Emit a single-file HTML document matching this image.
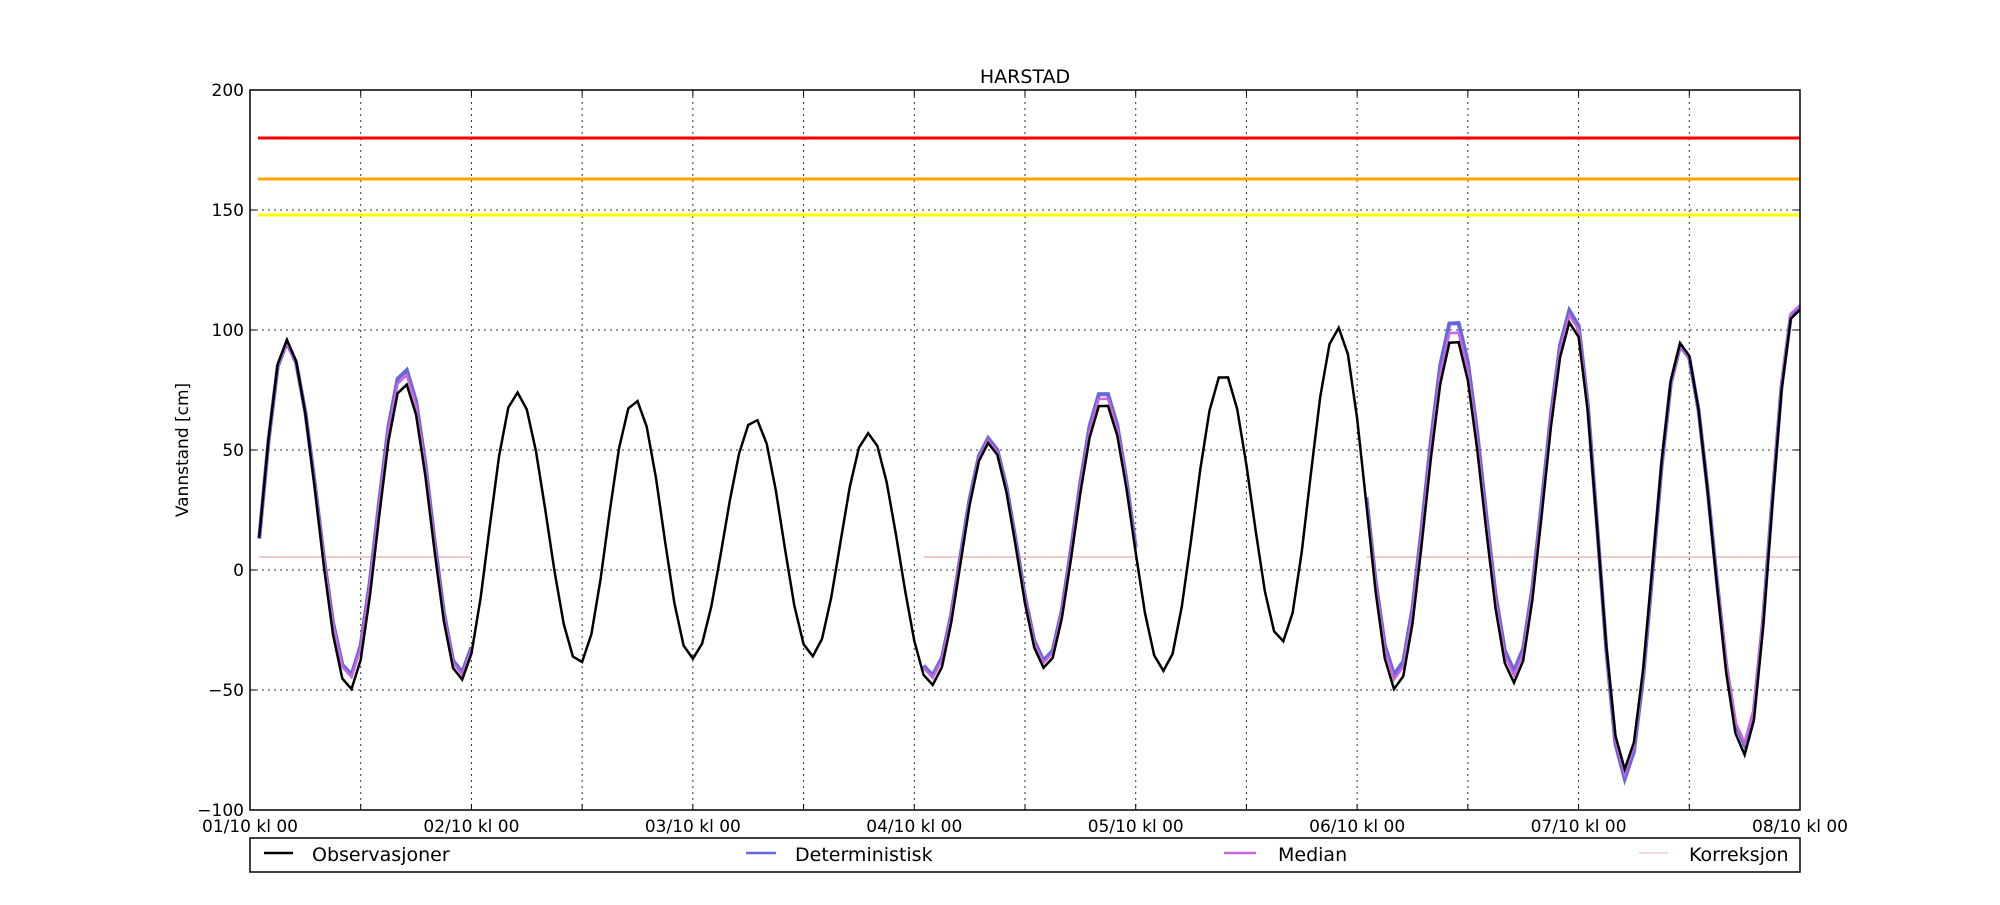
<!DOCTYPE html>
<html><head><meta charset="utf-8"><style>
body{margin:0;background:#fff;}
svg text{font-family:"DejaVu Sans","Liberation Sans",sans-serif;fill:#000;}
</style></head><body>
<svg id="s" width="2000" height="900" xmlns="http://www.w3.org/2000/svg">
<rect width="2000" height="900" fill="#fff"/>
<g id="grid" stroke="#000" stroke-width="1" stroke-dasharray="2,4" opacity="0.8"></g>
<line x1="258" x2="1800" y1="138" y2="138" stroke="#ff0000" stroke-width="3"/>
<line x1="258" x2="1800" y1="179" y2="179" stroke="#ffa500" stroke-width="3"/>
<line x1="258" x2="1800" y1="215" y2="215" stroke="#ffff00" stroke-width="3"/>
<g id="ser"></g>
<rect x="250" y="90" width="1550" height="720" fill="none" stroke="#000" stroke-width="1.5"/>
<g id="ticks" stroke="#000" stroke-width="1"></g>
<g id="lab" font-size="17"></g>
<text x="1025" y="83" font-size="19" text-anchor="middle">HARSTAD</text>
<text transform="translate(188,450) rotate(-90)" font-size="17" text-anchor="middle">Vannstand [cm]</text>
<rect x="250" y="838" width="1550" height="34" fill="#fff" stroke="#000" stroke-width="1.5"/>
<line x1="264" x2="293" y1="853" y2="853" stroke="#000" stroke-width="2.5"/>
<text x="312" y="861" font-size="19">Observasjoner</text>
<line x1="746" x2="776" y1="853" y2="853" stroke="#6666dd" stroke-width="2.5"/>
<text x="795" y="861" font-size="19">Deterministisk</text>
<line x1="1224" x2="1256" y1="853" y2="853" stroke="#cc66dd" stroke-width="2.5"/>
<text x="1278" y="861" font-size="19">Median</text>
<line x1="1639" x2="1668" y1="853" y2="853" stroke="#eecccc" stroke-width="1.5"/>
<text x="1689" y="861" font-size="19">Korreksjon</text>
</svg>
<script>
var NS="http://www.w3.org/2000/svg";
function X(t){return 250+t*1550/168;}
function Y(v){return 570-v*2.4;}
function el(p,n,a,txt){var e=document.createElementNS(NS,n);for(var k in a)e.setAttribute(k,a[k]);if(txt)e.textContent=txt;document.getElementById(p).appendChild(e);return e;}
for(var h=12;h<168;h+=12){el("grid","line",{x1:X(h),x2:X(h),y1:90,y2:810});el("ticks","line",{x1:X(h),x2:X(h),y1:810,y2:804});el("ticks","line",{x1:X(h),x2:X(h),y1:90,y2:96});}
[150,100,50,0,-50].forEach(function(v){el("grid","line",{x1:250,x2:1800,y1:Y(v),y2:Y(v)});});
[200,150,100,50,0,-50,-100].forEach(function(v){el("ticks","line",{x1:250,x2:256,y1:Y(v),y2:Y(v)});el("ticks","line",{x1:1794,x2:1800,y1:Y(v),y2:Y(v)});el("lab","text",{x:244,y:Y(v)+6,"text-anchor":"end"},(v<0?"\u2212":"")+Math.abs(v));});
for(var d=0;d<=7;d++){el("lab","text",{x:X(d*24),y:832,"text-anchor":"middle"},"0"+(d+1)+"/10 kl 00");}
var T=[-1.2,3.9,10.8,16.7,22.8,28.9,35.7,41.7,47.9,54.7,60.9,67,73.9,80.1,86.2,92.5,99,105.5,111.8,117.9,124.2,130.5,137,143.3,149,155.2,162,167.6,174];
var O=[-40,96,-50,78,-46,74,-39,71,-37,63,-36,57,-48,53,-41,70,-42,82,-30,101,-50,97,-47,104,-83,95,-77,110,-60];
var D=[-40,95,-44,84,-43,74,-39,71,-37,63,-36,57,-44,55,-38,75,-42,82,-30,101,-44,105,-42,109,-87,94,-73,111,-60];
var M=[-40,95,-45,82,-44,74,-39,71,-37,63,-36,57,-45,54,-39,73,-42,82,-30,101,-46,101,-44,107,-85,94,-72,112,-60];
function val(A,t){for(var i=0;i<T.length-1;i++){if(t>=T[i]&&t<=T[i+1]){var f=(t-T[i])/(T[i+1]-T[i]);var c=(1-Math.cos(Math.PI*f))/2;return A[i]+(A[i+1]-A[i])*c;}}return 0;}
function poly(A,a,b,col,w){var p=[];for(var t=a;t<=b;t++)p.push(X(t).toFixed(1)+","+Y(val(A,t)).toFixed(1));el("ser","polyline",{points:p.join(" "),fill:"none",stroke:col,"stroke-width":w,"stroke-linejoin":"miter"});}
var segs=[[1,24],[73,96],[121,168]];
segs.forEach(function(s){el("ser","line",{x1:X(s[0]),x2:X(s[1]),y1:Y(5.4),y2:Y(5.4),stroke:"#eecccc","stroke-width":2});});
segs.forEach(function(s){poly(D,s[0],s[1],"#6666dd",4);poly(M,s[0],s[1],"#cc66dd",2.5);});
poly(O,1,168,"#000",2.5);
</script>
</body></html>
